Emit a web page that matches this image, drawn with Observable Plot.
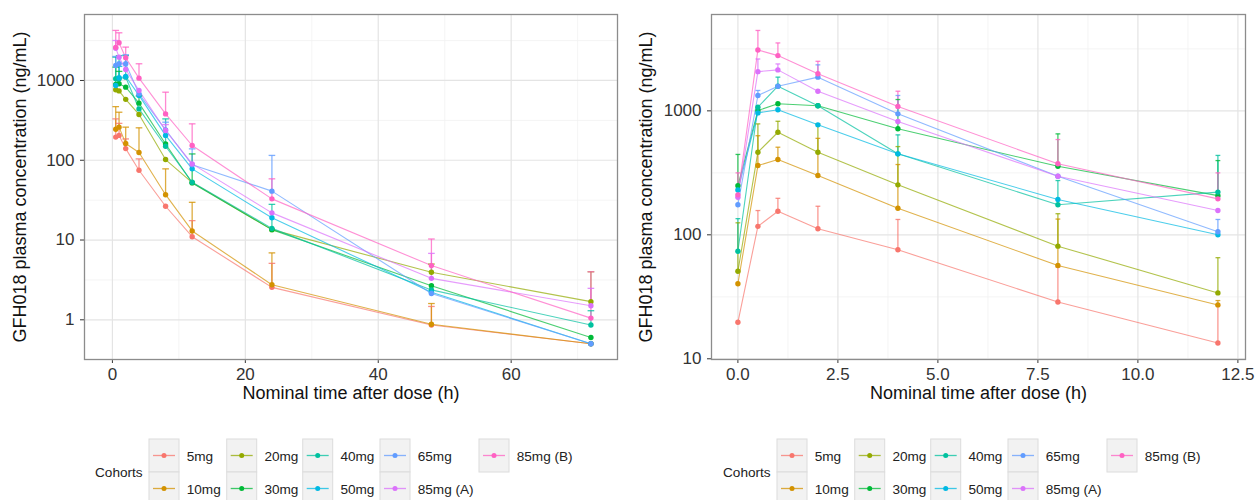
<!DOCTYPE html>
<html><head><meta charset="utf-8">
<script src="https://cdn.jsdelivr.net/npm/d3@7"></script>
<script src="https://cdn.jsdelivr.net/npm/@observablehq/plot@0.6"></script>
<style>
body{margin:0;background:#fff;font-family:"Liberation Sans",Arial,sans-serif;}
#wrap{position:relative;width:1255px;height:500px;overflow:hidden;background:#fff;}
.panel{position:absolute;top:0;}
.legend{position:absolute;top:420px;}
</style></head><body><div id="wrap"></div>
<script>
// ---------- data ----------
const cohorts = ["5mg","10mg","20mg","30mg","40mg","50mg","65mg","85mg (A)","85mg (B)"];
const palette = ["#F8766D","#D39200","#93AA00","#00BA38","#00C19F","#00B9E3","#619CFF","#DB72FB","#FF61C3"];

// Left panel: 0-72 h
const leftTimes = [0.5, 1, 2, 4, 8, 12, 24, 48, 72];
const leftMean_5mg  = [195, 205, 140, 75, 26.5, 11, 2.55, 0.86, 0.5];
const leftUp_5mg    = [330, 290, 185, 104, null, 17.5, 5.1, 1.47, null];
const leftMean_10mg = [245, 260, 162, 125, 37, 13, 2.75, 0.88, 0.5];
const leftUp_10mg   = [470, 400, 260, 255, 78, 29.7, 6.9, 1.6, null];
const leftMean_20mg = [765, 740, 580, 375, 102, 52.5, 13.5, 3.94, 1.69];
const leftUp_20mg   = [null, null, null, null, null, null, null, 5.0, 4.0];
const leftMean_30mg = [890, 910, 825, 520, 160, 52, 13.5, 2.68, 0.6];
const leftUp_30mg   = [1470, 1300, null, 640, null, 120, null, null, null];
const leftMean_40mg = [1050, 1050, 1100, 440, 150, 53, 14, 2.37, 0.86];
const leftUp_40mg   = [1960, 2050, 2050, null, 330, null, 28, null, 1.3];
const leftMean_50mg = [865, 1080, 1120, 650, 205, 78, 19, 2.21, 0.5];
const leftUp_50mg   = [null, 1500, null, null, null, null, null, null, null];
const leftMean_65mg = [1540, 1620, 1620, 680, 240, 88, 41, 2.14, 0.5];
const leftUp_65mg   = [2000, null, 2100, null, 300, 139, 115, null, null];
const leftMean_85A  = [2540, 1960, 1370, 750, 236, 90, 21.9, 3.31, 1.5];
const leftUp_85A    = [3170, null, null, null, 280, null, null, 6.8, 2.48];
const leftMean_85B  = [2600, 2970, 1930, 1070, 381, 153, 32.8, 4.78, 1.05];
const leftUp_85B    = [4240, 3960, 2620, 1620, 713, 286, 58.5, 10.3, 4.0];

// Right panel: 0-12 h
const rightTimes = [0, 0.5, 1, 2, 4, 8, 12];
const rightMean_5mg  = [19.7, 117, 155, 112, 75.7, 28.7, 13.4];
const rightUp_5mg    = [null, 157, 197, 170, 133, 55, 27];
const rightMean_10mg = [40.3, 362, 405, 301, 164, 56.5, 27.2];
const rightUp_10mg   = [null, 630, 509, 600, 369, 134, 29.5];
const rightMean_20mg = [50.8, 464, 672, 464, 253, 81, 34];
const rightUp_20mg   = [125, 785, 824, 785, 515, 148, 65.4];
const rightMean_30mg = [249, 1005, 1140, 1100, 717, 357, 207];
const rightUp_30mg   = [445, null, null, null, 1234, 652, 397];
const rightMean_40mg = [73.8, 1070, 1580, 1100, 450, 175, 221];
const rightUp_40mg   = [135, null, 1870, null, 640, 274, 437];
const rightMean_50mg = [230, 963, 1020, 771, 450, 193, 100];
const rightUp_50mg   = [null, null, null, null, null, null, null];
const rightMean_65mg = [175, 1330, 1580, 1870, 946, 297, 106];
const rightUp_65mg   = [null, 1460, null, 2350, 1330, null, 133];
const rightMean_85A  = [201, 2070, 2140, 1440, 820, 297, 157];
const rightUp_85A    = [null, 2620, 2390, null, null, null, null];
const rightMean_85B  = [210, 3100, 2790, 1990, 1083, 374, 195];
const rightUp_85B    = [316, 4450, 3530, 2510, 1440, 587, 316];

// axis ticks
const leftXMajor = [0, 20, 40, 60];
const leftXMinor = [10, 30, 50, 70];
const leftYMajor = [1, 10, 100, 1000];
const leftYMinor = [0.3162, 3.162, 31.62, 316.2, 3162];
const rightXMajor = [0, 2.5, 5, 7.5, 10, 12.5];
const rightXMinor = [1.25, 3.75, 6.25, 8.75, 11.25];
const rightYMajor = [10, 100, 1000];
const rightYMinor = [31.62, 316.2, 3162];

const xTitle = "Nominal time after dose (h)";
const yTitle = "GFH018 plasma concentration (ng/mL)";
const legendTitle = "Cohorts";

// ---------- build ----------
const leftSets = [
  [leftMean_5mg, leftUp_5mg],[leftMean_10mg, leftUp_10mg],[leftMean_20mg, leftUp_20mg],
  [leftMean_30mg, leftUp_30mg],[leftMean_40mg, leftUp_40mg],[leftMean_50mg, leftUp_50mg],
  [leftMean_65mg, leftUp_65mg],[leftMean_85A, leftUp_85A],[leftMean_85B, leftUp_85B]];
const rightSets = [
  [rightMean_5mg, rightUp_5mg],[rightMean_10mg, rightUp_10mg],[rightMean_20mg, rightUp_20mg],
  [rightMean_30mg, rightUp_30mg],[rightMean_40mg, rightUp_40mg],[rightMean_50mg, rightUp_50mg],
  [rightMean_65mg, rightUp_65mg],[rightMean_85A, rightUp_85A],[rightMean_85B, rightUp_85B]];

function toRows(times, sets) {
  const rows = [];
  sets.forEach(([m, u], i) => {
    times.forEach((t, j) => rows.push({cohort: cohorts[i], t, mean: m[j], upper: u[j]}));
  });
  return rows;
}

const FONT = '"Liberation Sans", Arial, Helvetica, sans-serif';

function makePanel(cfg) {
  const rows = toRows(cfg.times, cfg.sets);
  const bars = rows.filter(d => d.upper != null);
  const w = cfg.capW;
  return Plot.plot({
    width: 628, height: 420,
    marginLeft: 84, marginRight: cfg.mr, marginTop: 14, marginBottom: 61,
    style: {fontFamily: FONT, fontSize: "17px", color: "#333", background: "transparent", overflow: "visible"},
    x: {domain: cfg.xDomain, ticks: cfg.xMajor, tickFormat: cfg.xFmt, tickSize: 4, tickPadding: 4, label: null},
    y: {type: "log", domain: cfg.yDomain, ticks: cfg.yMajor, tickFormat: d => String(d), tickSize: 4, tickPadding: 6, label: null},
    color: {domain: cohorts, range: palette},
    marks: [
      Plot.ruleX(cfg.xMinor, {stroke: "#f1f1f1", strokeWidth: 0.8}),
      Plot.ruleY(cfg.yMinor, {stroke: "#f1f1f1", strokeWidth: 0.8}),
      Plot.ruleX(cfg.xMajor.filter(v => v >= cfg.xDomain[0] && v <= cfg.xDomain[1]), {stroke: "#e4e4e4", strokeWidth: 1.2}),
      Plot.ruleY(cfg.yMajor, {stroke: "#e4e4e4", strokeWidth: 1.2}),
      Plot.line(rows, {x: "t", y: "mean", z: "cohort", stroke: "cohort", strokeWidth: 1.1, strokeOpacity: 0.7}),
      Plot.link(bars, {x1: "t", x2: "t", y1: "mean", y2: "upper", stroke: "cohort", strokeWidth: 1.3, strokeOpacity: 0.75}),
      Plot.link(bars, {x1: d => d.t - w / 2, x2: d => d.t + w / 2, y1: "upper", y2: "upper", stroke: "cohort", strokeWidth: 1.3, strokeOpacity: 0.8}),
      Plot.dot(rows, {x: "t", y: "mean", fill: "cohort", r: 2.7}),
      Plot.frame({stroke: "#8c8c8c", strokeWidth: 1.3}),
      Plot.text([xTitle], {text: d => d, frameAnchor: "bottom", textAnchor: "middle", dy: 39, fontSize: 18, fill: "#111"}),
      Plot.text([yTitle], {text: d => d, frameAnchor: "left", textAnchor: "middle", rotate: -90, dx: cfg.ytDx, fontSize: 18, fill: "#111"})
    ]
  });
}

function makeLegend() {
  const svg = d3.create("svg").attr("width", 628).attr("height", 80)
    .style("font-family", FONT).style("overflow", "visible");
  const top = 19, boxW = 30, boxH = 33;
  const colX = [149, 226.7, 302.7, 380, 479];
  svg.append("text").attr("x", 95).attr("y", top + boxH).attr("dy", "0.35em")
    .attr("font-size", 13.6).attr("fill", "#222").text(legendTitle);
  cohorts.forEach((c, i) => {
    const col = Math.floor(i / 2), row = i % 2;
    const x = colX[col], y = top + row * boxH;
    svg.append("rect").attr("x", x).attr("y", y).attr("width", boxW).attr("height", boxH)
      .attr("fill", "#f2f2f2").attr("stroke", "#dcdcdc").attr("stroke-width", 1);
    svg.append("line").attr("x1", x + 4).attr("x2", x + boxW - 4).attr("y1", y + boxH / 2).attr("y2", y + boxH / 2)
      .attr("stroke", palette[i]).attr("stroke-width", 1.3).attr("stroke-opacity", 0.75);
    svg.append("circle").attr("cx", x + boxW / 2).attr("cy", y + boxH / 2).attr("r", 2.5).attr("fill", palette[i]);
    svg.append("text").attr("x", x + boxW + 7.7).attr("y", y + boxH / 2 + 1).attr("dy", "0.35em")
      .attr("font-size", 13.6).attr("fill", "#222").text(c);
  });
  return svg.node();
}

const wrap = document.getElementById("wrap");
const left = makePanel({
  times: leftTimes, sets: leftSets, mr: 11,
  xDomain: [-4.2, 76.0], xMajor: leftXMajor, xMinor: leftXMinor, xFmt: d => String(d),
  yDomain: [0.318, 6714], yMajor: leftYMajor, yMinor: leftYMinor, capW: 1.0, ytDx: -64
});
const right = makePanel({
  times: rightTimes, sets: rightSets, mr: 10,
  xDomain: [-0.66, 12.69], xMajor: rightXMajor, xMinor: rightXMinor, xFmt: d3.format(".1f"),
  yDomain: [9.87, 5986], yMajor: rightYMajor, yMinor: rightYMinor, capW: 0.12, ytDx: -65
});
left.classList.add("panel"); left.style.left = "0px";
right.classList.add("panel"); right.style.left = "627px";
wrap.appendChild(left); wrap.appendChild(right);
const lg1 = makeLegend(); lg1.classList.add("legend"); lg1.style.left = "0px";
const lg2 = makeLegend(); lg2.classList.add("legend"); lg2.style.left = "627.7px";
wrap.appendChild(lg1); wrap.appendChild(lg2);
</script></body></html>
